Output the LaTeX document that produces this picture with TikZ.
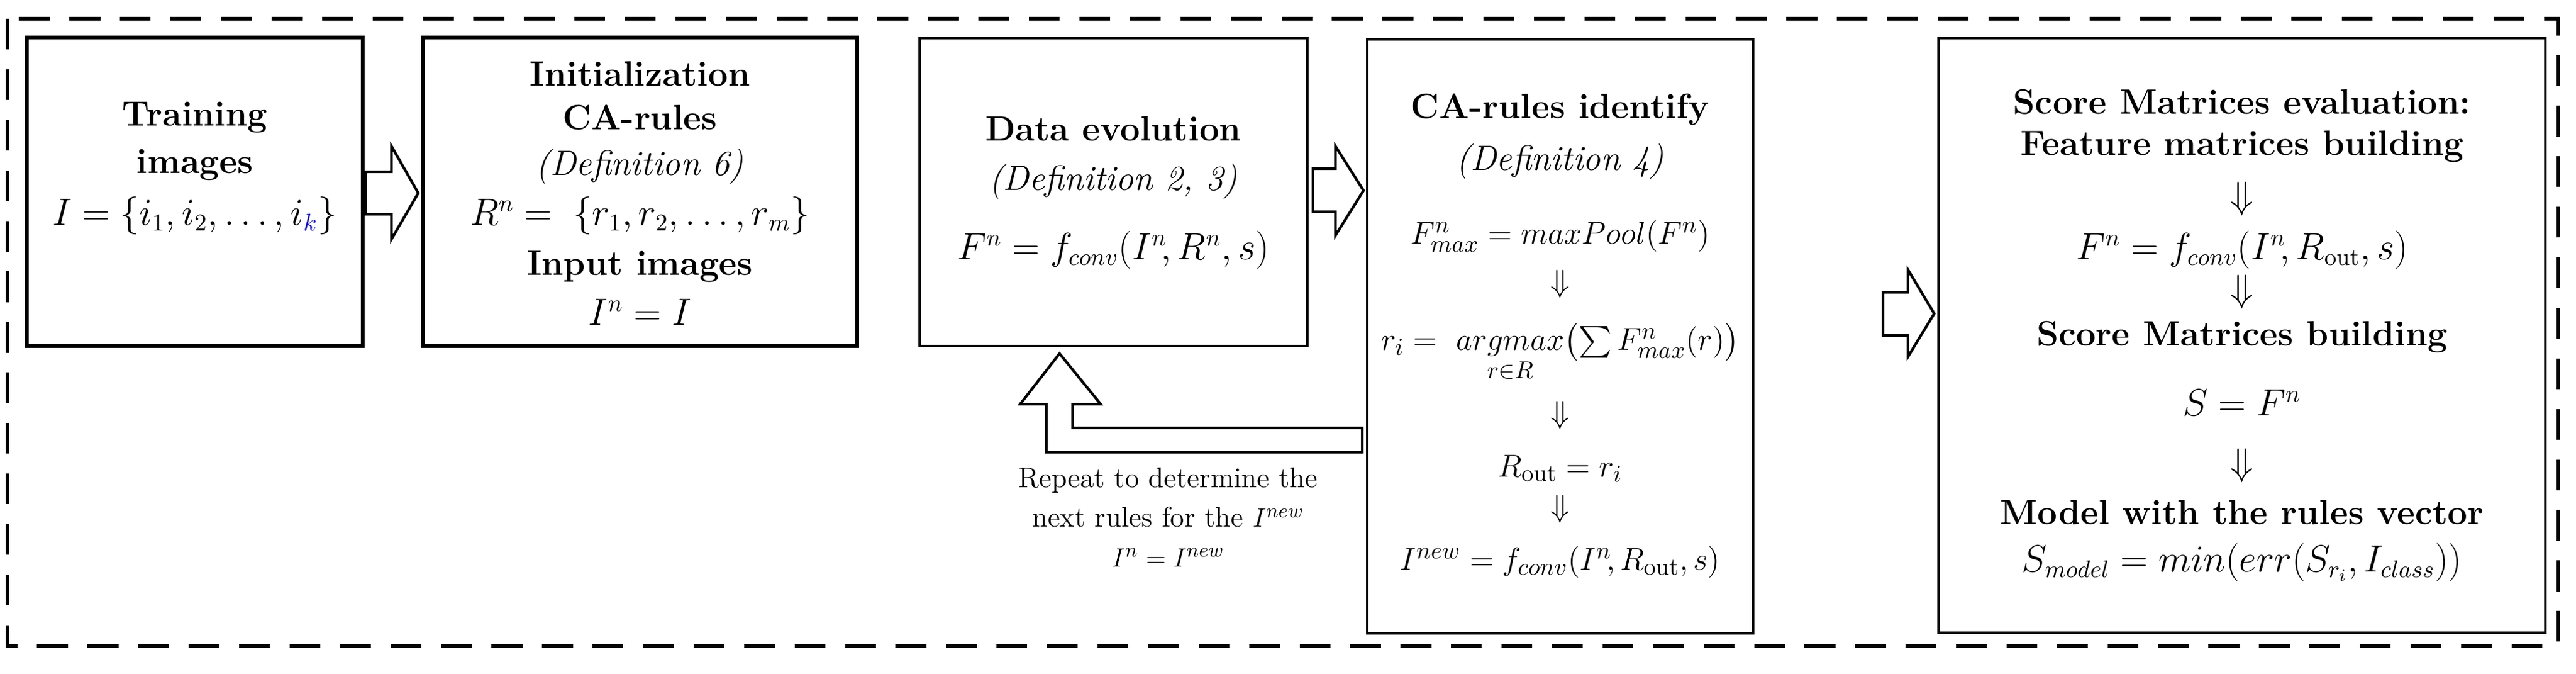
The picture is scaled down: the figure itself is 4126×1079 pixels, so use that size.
\documentclass[tikz,border=0pt]{standalone}
\usepackage{amsmath}
\begin{document}
\begin{tikzpicture}[x=0.01cm,y=-0.01cm,
  box/.style={draw,line width=1.3pt},
  thick box/.style={draw,line width=1.8pt},
  arr/.style={draw,line width=1.2pt,fill=white,line join=miter},
  t/.style={font=\fontsize{16}{19}\selectfont,inner sep=0pt,anchor=center},
  m/.style={font=\fontsize{15.5}{18}\selectfont,inner sep=0pt,anchor=center},
  s/.style={font=\fontsize{16}{19}\selectfont,inner sep=0pt,anchor=center}]
\useasboundingbox (0,0) rectangle (4126,1079);
\draw[line width=1.5pt,dash pattern=on 14pt off 9pt] (12,30) rectangle (4097,1034);
% boxes
\draw[thick box] (43,60) rectangle (581,554);
\draw[thick box] (677,60) rectangle (1373,554);
\draw[box] (1473,61) rectangle (2094,554);
\draw[box] (2190,63) rectangle (2808,1014);
\draw[box] (3105,61) rectangle (4077,1013);
% arrows
\draw[arr] (586,275) -- (627,275) -- (627,234) -- (670,309) -- (627,383) -- (627,343) -- (586,343) -- cycle;
\draw[arr] (2103,270) -- (2139,270) -- (2139,234) -- (2184,305) -- (2139,377) -- (2139,339) -- (2103,339) -- cycle;
\draw[arr] (3016,468) -- (3056,468) -- (3056,432) -- (3098,502) -- (3056,571) -- (3056,537) -- (3016,537) -- cycle;
\draw[arr] (2182,685) -- (1718,685) -- (1718,647) -- (1763,647) -- (1697,566) -- (1634,647) -- (1676,647) -- (1676,724) -- (2182,724) -- cycle;
% box1
\node[t] (b1a) at (312,188) {\bfseries Training};
\node[t] (b1b) at (312,264) {\bfseries images};
\node[t] (b1c) at (312,345) {$I=\{i_1,i_2,\dots,i_{\textcolor{blue!70!black}{k}}\}$};
% box2
\node[t] (b2a) at (1025,118) {\bfseries Initialization};
\node[t] (b2b) at (1025,188) {\bfseries CA-rules};
\node[t] (b2c) at (1025,266) {\itshape (Definition 6)};
\node[t] (b2d) at (1025,345) {$R^n=\ \{r_1,r_2,\dots,r_m\}$};
\node[t] (b2e) at (1025,427) {\bfseries Input images};
\node[t] (b2f) at (1025,500) {$I^n=I$};
% box3
\node[t] (b3a) at (1783,206) {\bfseries Data evolution};
\node[t] (b3b) at (1783,290) {\itshape (Definition 2, 3)};
\node[t] (b3c) at (1783,400) {$F^n=f_{conv}(I^n\!,R^n,s)$};
% feedback text
\node[font=\fontsize{13}{16}\selectfont,align=center,inner sep=0pt] (rep) at (1871,828) {Repeat to determine the\\[2pt] next rules for the $I^{new}$\\[2pt] $I^n=I^{new}$};
% box4
\node[t] (b4a) at (2499,175) {\bfseries CA-rules identify};
\node[t] (b4b) at (2499,258) {\itshape (Definition 4)};
\node[m] (b4c) at (2499,378) {$F^n_{max}=maxPool(F^n)$};
\node[m] (b4d) at (2499,455) {$\Downarrow$};
\node[m] (b4e) at (2499,565) {$r_i=\ \underset{r\in R}{argmax}\bigl(\sum F^n_{max}(r)\bigr)$};
\node[m] (b4f) at (2499,665) {$\Downarrow$};
\node[m] (b4g) at (2499,750) {$R_{\mathrm{out}}=r_i$};
\node[m] (b4h) at (2499,815) {$\Downarrow$};
\node[m] (b4i) at (2499,900) {$I^{new}=f_{conv}(I^n\!,R_{\mathrm{out}},s)$};
% box5
\node[s] (b5a) at (3591,163) {\bfseries Score Matrices evaluation:};
\node[s] (b5b) at (3591,235) {\bfseries Feature matrices building};
\node[s] (b5c) at (3591,318) {$\Downarrow$};
\node[s] (b5d) at (3591,400) {$F^n=f_{conv}(I^n\!,R_{\mathrm{out}},s)$};
\node[s] (b5e) at (3591,467) {$\Downarrow$};
\node[s] (b5f) at (3591,540) {\bfseries Score Matrices building};
\node[s] (b5g) at (3591,645) {$S=F^n$};
\node[s] (b5h) at (3591,745) {$\Downarrow$};
\node[s] (b5i) at (3591,820) {\bfseries Model with the rules vector};
\node[s] (b5j) at (3591,900) {$S_{model}=min(err(S_{r_i},I_{class}))$};
\end{tikzpicture}
\end{document}
